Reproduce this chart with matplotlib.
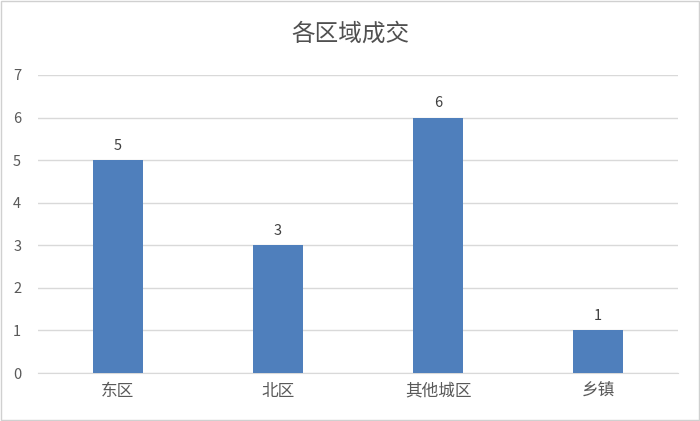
import matplotlib
matplotlib.use("Agg")
import matplotlib.pyplot as plt

plt.rcParams['font.family'] = ['Noto Sans CJK SC', 'DejaVu Sans']

# data
regions = ['东区', '北区', '其他城区', '乡镇']
deals = [5, 3, 6, 1]
yticks = [0, 1, 2, 3, 4, 5, 6, 7]

bar_color = '#4F7FBC'
text_color = '#595959'

fig = plt.figure(figsize=(7, 4.21), dpi=100)
ax = fig.add_axes([0.054, 0.114, 0.915, 0.708])

x = list(range(len(regions)))
bars = ax.bar(x, deals, width=0.31, color=bar_color, zorder=3)

for xi, v in zip(x, deals):
    ax.text(xi, v + 0.17, str(v), ha='center', va='bottom', fontsize=10.5, color='#404040')

ax.set_xlim(-0.5, len(regions) - 0.5)
ax.set_ylim(0, 7)
ax.set_yticks(yticks)
ax.set_xticks(x)
ax.set_xticklabels(regions, fontsize=12, color=text_color)
ax.tick_params(axis='y', labelsize=10.5, labelcolor=text_color, length=0, pad=12)
ax.tick_params(axis='x', length=0, pad=7)
ax.grid(axis='y', color='#D9D9D9', linewidth=1, zorder=0)
for s in ['top', 'right', 'left']:
    ax.spines[s].set_visible(False)
ax.spines['bottom'].set_color('#D9D9D9')

fig.text(0.5, 0.92, '各区域成交', ha='center', va='center', fontsize=17,
         color='#505050', fontweight='medium')

# outer border
fig.patches.append(plt.Rectangle((0.002, 0.003), 0.996, 0.994, transform=fig.transFigure,
                                 fill=False, edgecolor='#D0D0D0', linewidth=1))

fig.savefig('out.png', dpi=100)
